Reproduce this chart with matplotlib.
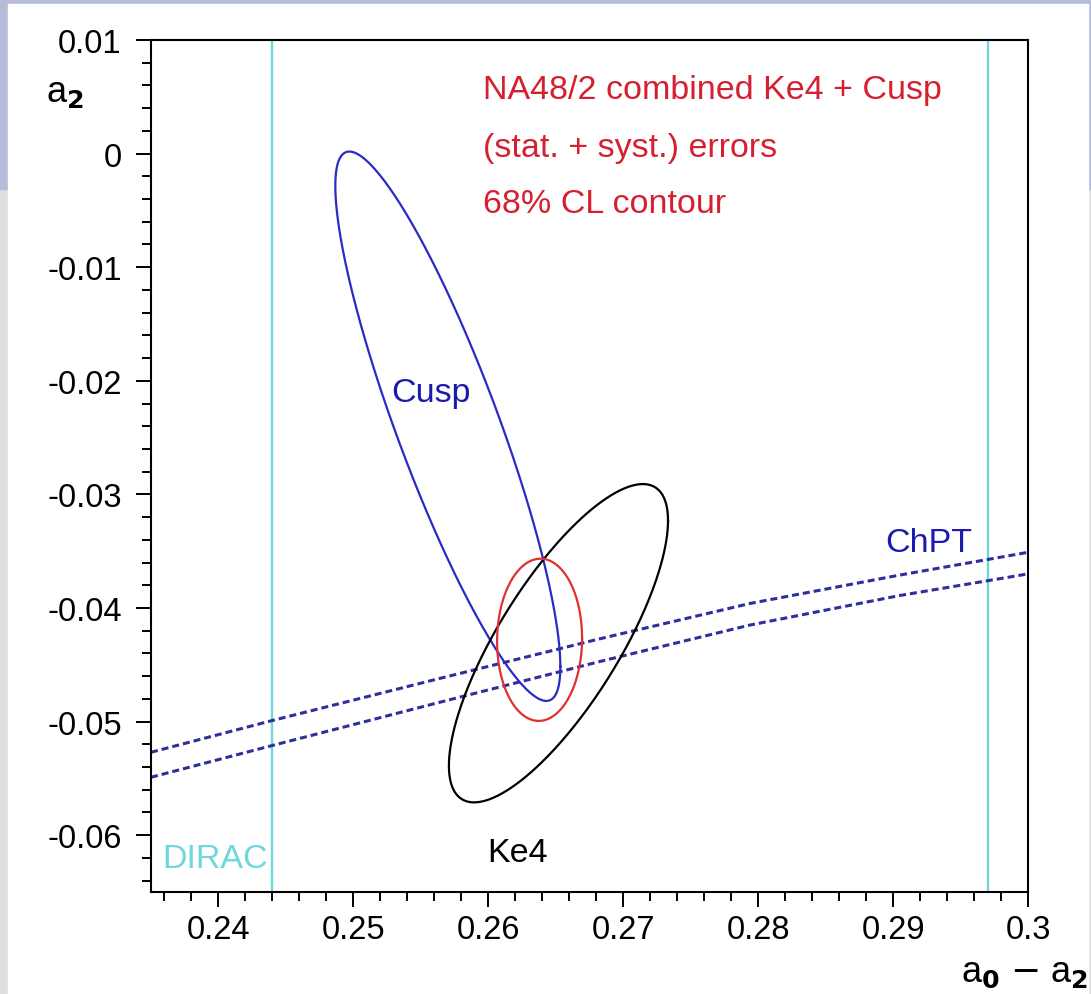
import numpy as np
import matplotlib
matplotlib.use("Agg")
import matplotlib.pyplot as plt
from matplotlib.patches import Rectangle

plt.rcParams['font.family'] = ['Liberation Sans', 'DejaVu Sans']

# ---- data ----
# 68% CL contours: centre (a0-a2, a2), sigma_x, sigma_y, correlation
cusp_fit = dict(cx=0.2570, cy=-0.0240, sx=0.00834, sy=0.02418, rho=-0.875)
ke4_fit = dict(cx=0.2652, cy=-0.0431, sx=0.00812, sy=0.01401, rho=0.77)
combined_fit = dict(cx=0.2638, cy=-0.0428, sx=0.00315, sy=0.00714, rho=0.02)

# ChPT band (upper / lower edge)
chpt_x = [0.235, 0.244, 0.2564, 0.2683, 0.2794, 0.2905, 0.300]
chpt_upper = [-0.0527, -0.0499, -0.0462, -0.0427, -0.0396, -0.0371, -0.0351]
chpt_lower = [-0.0549, -0.0521, -0.0483, -0.0447, -0.0415, -0.0389, -0.0370]

# DIRAC limits on a0-a2
dirac_x = [0.244, 0.297]

x_ticks = [0.24, 0.25, 0.26, 0.27, 0.28, 0.29, 0.30]
x_ticklabels = ['0.24', '0.25', '0.26', '0.27', '0.28', '0.29', '0.3']
y_ticks = [-0.06, -0.05, -0.04, -0.03, -0.02, -0.01, 0.0, 0.01]
y_ticklabels = ['-0.06', '-0.05', '-0.04', '-0.03', '-0.02', '-0.01', '0', '0.01']


def contour(fit, n=400):
    """Points of the error ellipse for a given fit result."""
    t = np.linspace(0, 2 * np.pi, n)
    x = fit['cx'] + fit['sx'] * np.cos(t)
    y = fit['cy'] + fit['sy'] * (fit['rho'] * np.cos(t)
                                 + np.sqrt(1 - fit['rho'] ** 2) * np.sin(t))
    return x, y


fig = plt.figure(figsize=(10.91, 9.95), dpi=100)

# slide background around the picture
lav = '#b6bcda'
grey = '#dedede'
fig.patches.append(Rectangle((0, 0), 1, 1, transform=fig.transFigure,
                             color=grey, zorder=-10))
fig.patches.append(Rectangle((0, 805 / 995), 1, 190 / 995,
                             transform=fig.transFigure, color=lav, zorder=-9))
fig.patches.append(Rectangle((8 / 1091, 0), 1080 / 1091, 990 / 995,
                             transform=fig.transFigure, color='white',
                             zorder=-8))

ax = fig.add_axes([151 / 1091, 102 / 995, 877 / 1091, 852 / 995])

ax.set_xlim(0.235, 0.300)
ax.set_ylim(-0.065, 0.010)

# DIRAC band
for xv in dirac_x:
    ax.axvline(xv, color='#6fd8dc', lw=1.7, zorder=1)

# ChPT band
for yv in (chpt_upper, chpt_lower):
    ax.plot(chpt_x, yv, color='#2e2e9c', lw=2.2, dashes=(2.3, 1.3), zorder=2)

# contours
x, y = contour(cusp_fit)
ax.plot(x, y, color='#2a2ac4', lw=1.6, zorder=3)
x, y = contour(ke4_fit)
ax.plot(x, y, color='black', lw=1.6, zorder=3)
x, y = contour(combined_fit)
ax.plot(x, y, color='#e03030', lw=1.6, zorder=4)

# labels inside the frame
fs = 24.5
ax.text(0.2596, 0.0049, 'NA48/2 combined Ke4 + Cusp', color='#d42030',
        fontsize=fs)
ax.text(0.2596, -0.0002, '(stat. + syst.) errors', color='#d42030',
        fontsize=fs)
ax.text(0.2596, -0.0051, '68% CL contour', color='#d42030', fontsize=fs)
ax.text(0.2528, -0.0218, 'Cusp', color='#1a1ab0', fontsize=fs)
ax.text(0.2894, -0.0350, 'ChPT', color='#1a1ab0', fontsize=fs)
ax.text(0.2599, -0.0623, 'Ke4', color='black', fontsize=fs)
ax.text(0.2358, -0.0628, 'DIRAC', color='#6fd8dc', fontsize=fs)

# axes look
for side in ('top', 'right', 'left', 'bottom'):
    ax.spines[side].set_linewidth(1.5)
ax.set_xticks(x_ticks)
ax.set_xticklabels(x_ticklabels)
ax.set_yticks(y_ticks)
ax.set_yticklabels(y_ticklabels)
ax.set_xticks(np.arange(0.236, 0.3001, 0.002), minor=True)
ax.set_yticks(np.arange(-0.064, 0.0101, 0.002), minor=True)
ax.tick_params(which='major', direction='out', length=11, width=1.4,
               labelsize=23.5, colors='black')
ax.tick_params(which='minor', direction='out', length=6.5, width=1.4)
ax.tick_params(axis='x', which='major', pad=5)
ax.tick_params(axis='y', which='major', pad=10)

# axis titles
fig.text(46 / 1091, 1 - 93 / 995, r'a$_{\mathbf{2}}$', fontsize=26,
         ha='left', va='center')
fig.text(1088 / 1091, 1 - 973 / 995, r'a$_{\mathbf{0}}$ $-$ a$_{\mathbf{2}}$',
         fontsize=26, ha='right', va='center')

fig.savefig('out.png', dpi=100)
